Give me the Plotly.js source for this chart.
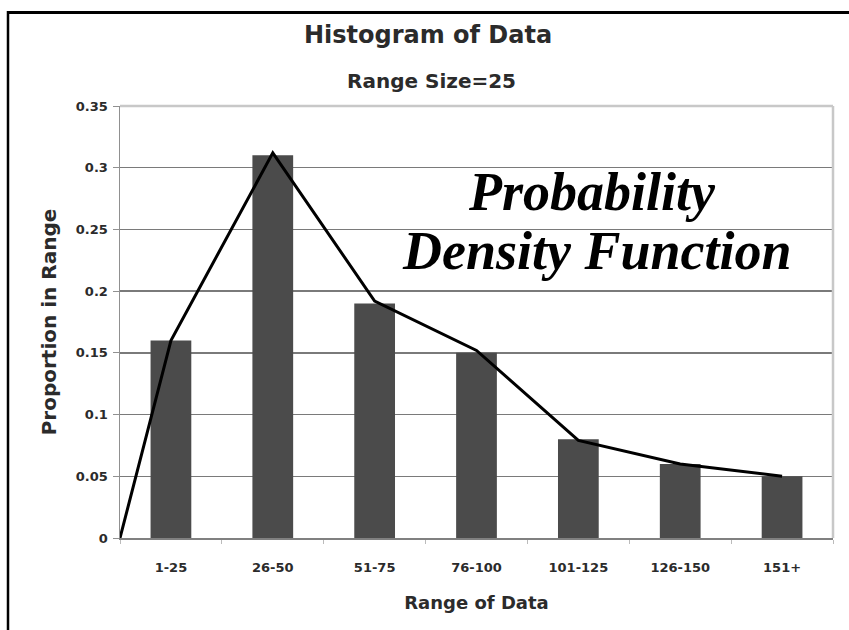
<!DOCTYPE html>
<html>
<head>
<meta charset="utf-8">
<script src="https://cdn.plot.ly/plotly-3.0.1.min.js"></script>
<style>html,body{margin:0;padding:0;background:#fff;}#chart{width:849px;height:630px;}</style>
</head>
<body>
<div id="chart"></div>
<script>
// Data
const categories = ['1-25', '26-50', '51-75', '76-100', '101-125', '126-150', '151+'];
const proportions = [0.16, 0.31, 0.19, 0.15, 0.08, 0.06, 0.05];
const pdfStartValue = 0;
const pdfValues = [0.16, 0.312, 0.192, 0.152, 0.079, 0.06, 0.05];
const yTickValues = [0, 0.05, 0.1, 0.15, 0.2, 0.25, 0.3, 0.35];
const yTickLabels = ['0', '0.05', '0.1', '0.15', '0.2', '0.25', '0.3', '0.35'];

// Line starts at the left edge of the category axis (index -0.5) and then passes each category centre
const pdfX = [-0.5].concat(categories.map((c, i) => i));
const pdfY = [pdfStartValue].concat(pdfValues);

const W = 849, H = 630;
const mL = 120, mR = 16, mT = 106, mB = 92;
const pw = W - mL - mR, ph = H - mT - mB;
const px = v => (v - mL) / pw;   // pixel -> paper x
const py = v => (H - mB - v) / ph; // pixel -> paper y

const font = 'DejaVu Sans, Arial, sans-serif';
const serif = 'Liberation Serif, Times New Roman, serif';
const txt = '#2b2b2b';

const traces = [
  {
    type: 'bar', x: categories, y: proportions, xaxis: 'x', yaxis: 'y',
    width: 0.4, marker: {color: '#4b4b4b', line: {width: 0}},
    name: 'Proportion', hoverinfo: 'x+y'
  },
  {
    type: 'scatter', mode: 'lines', x: pdfX, y: pdfY, xaxis: 'x2', yaxis: 'y',
    line: {color: '#000', width: 3}, name: 'PDF'
  }
];

const layout = {
  width: W, height: H,
  margin: {l: mL, r: mR, t: mT, b: mB, pad: 0},
  paper_bgcolor: '#fff', plot_bgcolor: '#fff',
  showlegend: false,
  title: {
    text: 'Histogram of Data',
    font: {family: font, size: 24, color: txt, weight: 'bold'},
    xref: 'container', x: 428 / W, xanchor: 'center',
    yref: 'container', y: 1 - 26 / H, yanchor: 'top'
  },
  bargap: 0.6,
  xaxis: {
    type: 'category', range: [-0.5, 6.5],
    showline: true, linecolor: '#808080', linewidth: 1.5,
    ticks: 'outside', tickson: 'boundaries', ticklen: 4, tickcolor: '#bbbbbb', tickwidth: 1,
    tickfont: {family: font, size: 13, color: txt, weight: 'bold'},
    ticklabelstandoff: 17,
    showgrid: false, zeroline: false, fixedrange: true,
    title: {text: 'Range of Data', font: {family: font, size: 18, color: txt, weight: 'bold'}, standoff: 22}
  },
  xaxis2: {
    overlaying: 'x', range: [-0.5, 6.5], visible: false, fixedrange: true
  },
  yaxis: {
    range: [0, 0.35], tickmode: 'array', tickvals: yTickValues, ticktext: yTickLabels,
    showline: true, linecolor: '#909090', linewidth: 1.5,
    ticks: 'outside', ticklen: 6, tickcolor: '#909090', tickwidth: 1,
    tickfont: {family: font, size: 13, color: txt, weight: 'bold'},
    ticklabelstandoff: 2,
    showgrid: true, gridcolor: '#7a7a7a', gridwidth: 1.5, zeroline: false, fixedrange: true,
    title: {text: 'Proportion in Range', font: {family: font, size: 20, color: txt, weight: 'bold'}, standoff: 14}
  },
  annotations: [
    {text: 'Range Size=25', xref: 'paper', yref: 'paper', x: px(431), y: py(81), xanchor: 'center', yanchor: 'middle',
     showarrow: false, font: {family: font, size: 20, color: txt, weight: 'bold'}},
    {text: 'Probability', xref: 'paper', yref: 'paper', x: px(592), y: py(192), xanchor: 'center', yanchor: 'middle',
     showarrow: false, font: {family: serif, size: 54, color: '#000', weight: 'bold', style: 'italic'}},
    {text: 'Density Function', xref: 'paper', yref: 'paper', x: px(597), y: py(251), xanchor: 'center', yanchor: 'middle',
     showarrow: false, font: {family: serif, size: 54, color: '#000', weight: 'bold', style: 'italic'}}
  ],
  shapes: [
    // light plot-area border (top and right)
    {type: 'line', xref: 'paper', yref: 'paper', x0: 0, x1: 1, y0: 1, y1: 1, line: {color: '#c8c8c8', width: 2.5}},
    {type: 'line', xref: 'paper', yref: 'paper', x0: 1, x1: 1, y0: 0, y1: 1, line: {color: '#c8c8c8', width: 2.5}},
    // outer black frame (top and left)
    {type: 'line', xref: 'paper', yref: 'paper', x0: px(8), x1: px(W + 5), y0: py(12.5), y1: py(12.5), line: {color: '#000', width: 3}},
    {type: 'line', xref: 'paper', yref: 'paper', x0: px(8), x1: px(8), y0: py(11), y1: py(H + 5), line: {color: '#000', width: 2.5}}
  ]
};

Plotly.newPlot('chart', traces, layout, {displayModeBar: false, staticPlot: true});
</script>
</body>
</html>
